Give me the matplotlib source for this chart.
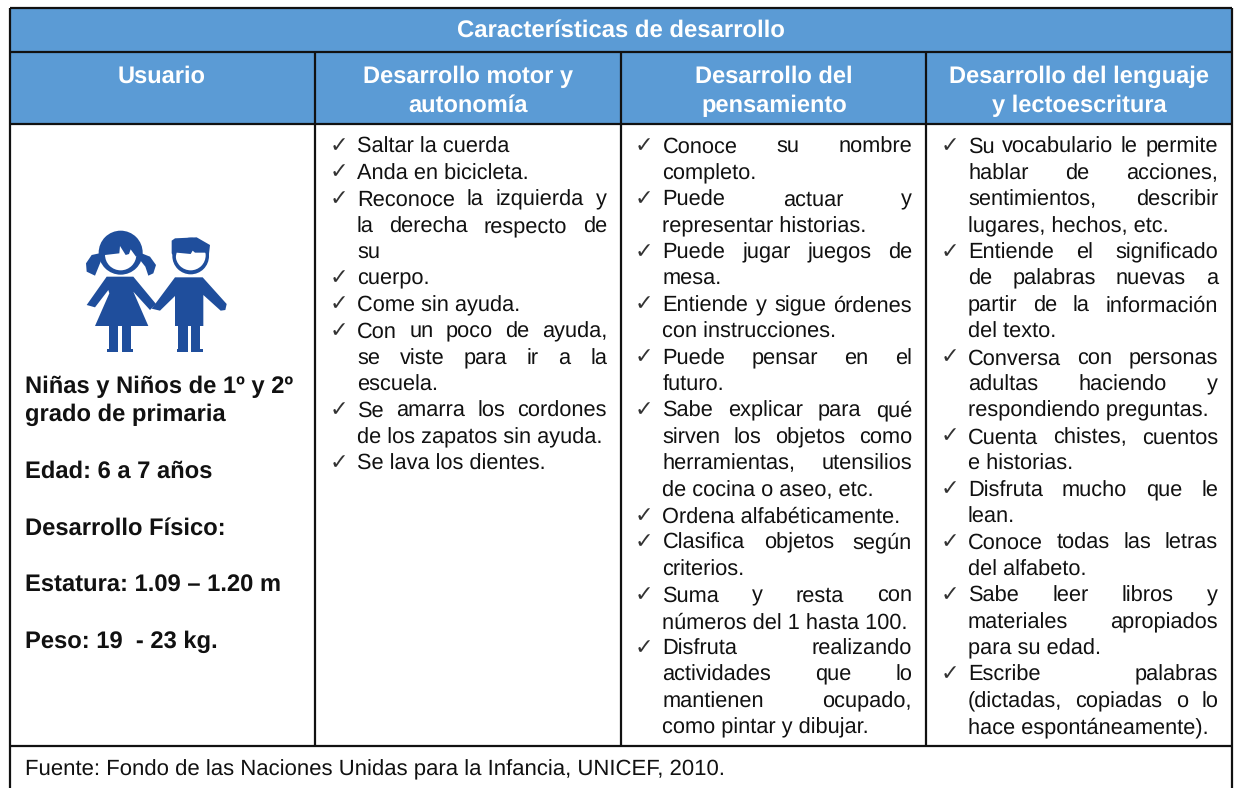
import math
import matplotlib
matplotlib.use('Agg')
import matplotlib.pyplot as plt
from matplotlib.font_manager import FontProperties
from matplotlib.patches import Rectangle, Polygon, Circle

plt.rcParams['text.hinting'] = 'no_hinting'

FONT = 'Liberation Sans'
BLUE = '#5B9BD5'
ICON = '#1F4E9C'
BODY_SIZE = 15.7

title = 'Características de desarrollo'
headers = ['Usuario', 'Desarrollo motor y\nautonomía', 'Desarrollo del\npensamiento', 'Desarrollo del lenguaje\ny lectoescritura']
footer = 'Fuente: Fondo de las Naciones Unidas para la Infancia, UNICEF, 2010.'
user_lines = ['Niñas y Niños de 1º y 2º', 'grado de primaria', '', 'Edad: 6 a 7 años', '', 'Desarrollo Físico:', '', 'Estatura: 1.09 – 1.20 m', '', 'Peso: 19  - 23 kg.']

# (starts a bullet, text, justified)
col_motor = [
    (1, 'Saltar la cuerda', 0),
    (1, 'Anda en bicicleta.', 0),
    (1, 'Reconoce la izquierda y', 1),
    (0, 'la derecha respecto de', 1),
    (0, 'su', 0),
    (1, 'cuerpo.', 0),
    (1, 'Come sin ayuda.', 0),
    (1, 'Con un poco de ayuda,', 1),
    (0, 'se viste para ir a la', 1),
    (0, 'escuela.', 0),
    (1, 'Se amarra los cordones', 1),
    (0, 'de los zapatos sin ayuda.', 0),
    (1, 'Se lava los dientes.', 0),
]
col_pensamiento = [
    (1, 'Conoce su nombre', 1),
    (0, 'completo.', 0),
    (1, 'Puede actuar y', 1),
    (0, 'representar historias.', 0),
    (1, 'Puede jugar juegos de', 1),
    (0, 'mesa.', 0),
    (1, 'Entiende y sigue órdenes', 1),
    (0, 'con instrucciones.', 0),
    (1, 'Puede pensar en el', 1),
    (0, 'futuro.', 0),
    (1, 'Sabe explicar para qué', 1),
    (0, 'sirven los objetos como', 1),
    (0, 'herramientas, utensilios', 1),
    (0, 'de cocina o aseo, etc.', 0),
    (1, 'Ordena alfabéticamente.', 0),
    (1, 'Clasifica objetos según', 1),
    (0, 'criterios.', 0),
    (1, 'Suma y resta con', 1),
    (0, 'números del 1 hasta 100.', 0),
    (1, 'Disfruta realizando', 1),
    (0, 'actividades que lo', 1),
    (0, 'mantienen ocupado,', 1),
    (0, 'como pintar y dibujar.', 0),
]
col_lenguaje = [
    (1, 'Su vocabulario le permite', 1),
    (0, 'hablar de acciones,', 1),
    (0, 'sentimientos, describir', 1),
    (0, 'lugares, hechos, etc.', 0),
    (1, 'Entiende el significado', 1),
    (0, 'de palabras nuevas a', 1),
    (0, 'partir de la información', 1),
    (0, 'del texto.', 0),
    (1, 'Conversa con personas', 1),
    (0, 'adultas haciendo y', 1),
    (0, 'respondiendo preguntas.', 0),
    (1, 'Cuenta chistes, cuentos', 1),
    (0, 'e historias.', 0),
    (1, 'Disfruta mucho que le', 1),
    (0, 'lean.', 0),
    (1, 'Conoce todas las letras', 1),
    (0, 'del alfabeto.', 0),
    (1, 'Sabe leer libros y', 1),
    (0, 'materiales apropiados', 1),
    (0, 'para su edad.', 0),
    (1, 'Escribe palabras', 1),
    (0, '(dictadas, copiadas o lo', 1),
    (0, 'hace espontáneamente).', 0),
]

fig = plt.figure(figsize=(12.35, 7.88), dpi=100)
ax = fig.add_axes([0, 0, 1, 1])
ax.set_xlim(0, 1235)
ax.set_ylim(788, 0)
ax.axis('off')

# header fills and grid
ax.add_patch(Rectangle((10, 8), 1222, 116, fc=BLUE, ec='none'))
for y in [8, 52, 124, 746]:
    ax.plot([10, 1232], [y, y], color='#111111', lw=1.6, solid_capstyle='butt')
for x in [10, 1232]:
    ax.plot([x, x], [8, 788], color='#111111', lw=1.6, solid_capstyle='butt')
for x in [315, 621, 926]:
    ax.plot([x, x], [52, 746], color='#111111', lw=1.6, solid_capstyle='butt')

ax.text(621, 31, title, color='white', fontsize=17.2, fontweight='bold', family=FONT, ha='center', va='center')
for cx, h in zip([162, 468, 774, 1079], headers):
    for i, part in enumerate(h.split('\n')):
        ax.text(cx, 76.5 + i*29, part, color='white', fontsize=17.0, fontweight='bold', family=FONT, ha='center', va='center')

for i, line in enumerate(user_lines):
    if line:
        ax.text(25, 386.5 + i*28.4, line, color='#111111', fontsize=17.15, fontweight='bold', family=FONT, va='center')

ax.text(25, 769.5, footer, color='#111111', fontsize=15.9, family=FONT, va='center')

# bullet lists, justified lines get their words spread to the cell width
renderer = fig.canvas.get_renderer()
body_font = FontProperties(family=FONT, size=BODY_SIZE)

def width_of(s):
    t = ax.text(0, 0, s, fontsize=BODY_SIZE, family=FONT)
    w = t.get_window_extent(renderer).width
    t.remove()
    return w

def put_word(x, base, s):
    # agg rounds baseline + descent, so cancel the fraction to keep words on one line
    d = renderer.get_text_width_height_descent(s, body_font, False)[2]
    ax.text(x, base + math.ceil(d) - d, s, fontproperties=body_font, color='#111111', va='baseline')

def draw_col(lines, x_check, x_text, x_right):
    for i, (bullet, text, just) in enumerate(lines):
        y = 145 + i*26.4
        base = round(y + 7.5)
        if bullet:
            ax.text(x_check, y + 1, '\u2713', fontsize=16, family='DejaVu Sans', color='#333333', ha='center', va='center')
        words = text.split(' ')
        if just and len(words) > 1:
            gap = (x_right - x_text - sum(width_of(w) for w in words)) / (len(words) - 1)
            x = x_text
            for w in words:
                put_word(x, base, w)
                x += width_of(w) + gap
        else:
            put_word(x_text, base, text)

draw_col(col_motor, 339, 357, 607)
draw_col(col_pensamiento, 644, 662.5, 912)
draw_col(col_lenguaje, 950, 968, 1218)

# children icon, shapes
def pts(seq):
    return [(60 + a/3, 210 + b/3) for a, b in seq]

def poly(seq, c=ICON):
    ax.add_patch(Polygon(pts(seq), closed=True, fc=c, ec='none'))

def circ(a, b, r, c=ICON):
    ax.add_patch(Circle((60 + a/3, 210 + b/3), r/3, fc=c, ec='none'))

# girl
poly([(118, 130), (95, 135), (78, 160), (80, 185), (105, 197), (116, 170), (125, 148)])
poly([(245, 130), (270, 140), (288, 165), (280, 190), (265, 197), (256, 170), (240, 150)])
circ(182, 128, 66)
circ(182, 134, 47, 'white')
poly([(125, 128), (135, 85), (180, 70), (230, 85), (240, 128), (228, 140), (212, 118), (207, 132), (197, 135), (180, 108), (178, 130), (135, 135)])
poly([(140, 200), (220, 200), (288, 282), (270, 300), (220, 245), (265, 348), (105, 348), (148, 250), (145, 240), (105, 292), (80, 285)])
poly([(148, 348), (175, 348), (175, 425), (140, 425), (140, 418), (148, 418)])
poly([(185, 348), (212, 348), (212, 418), (218, 418), (218, 425), (185, 425)])
# boy
circ(392, 138, 55)
circ(392, 136, 45, 'white')
poly([(335, 92), (345, 85), (410, 82), (450, 105), (446, 140), (436, 128), (405, 128), (398, 122), (392, 132), (350, 128), (346, 145), (335, 130)])
poly([(345, 202), (428, 202), (500, 282), (496, 300), (482, 302), (430, 255), (430, 348), (345, 348), (345, 258), (300, 302), (275, 296)])
poly([(355, 348), (383, 348), (383, 425), (350, 425), (350, 418), (355, 418)])
poly([(393, 348), (420, 348), (420, 418), (428, 418), (428, 425), (393, 425)])

plt.savefig('out.png', dpi=100)
